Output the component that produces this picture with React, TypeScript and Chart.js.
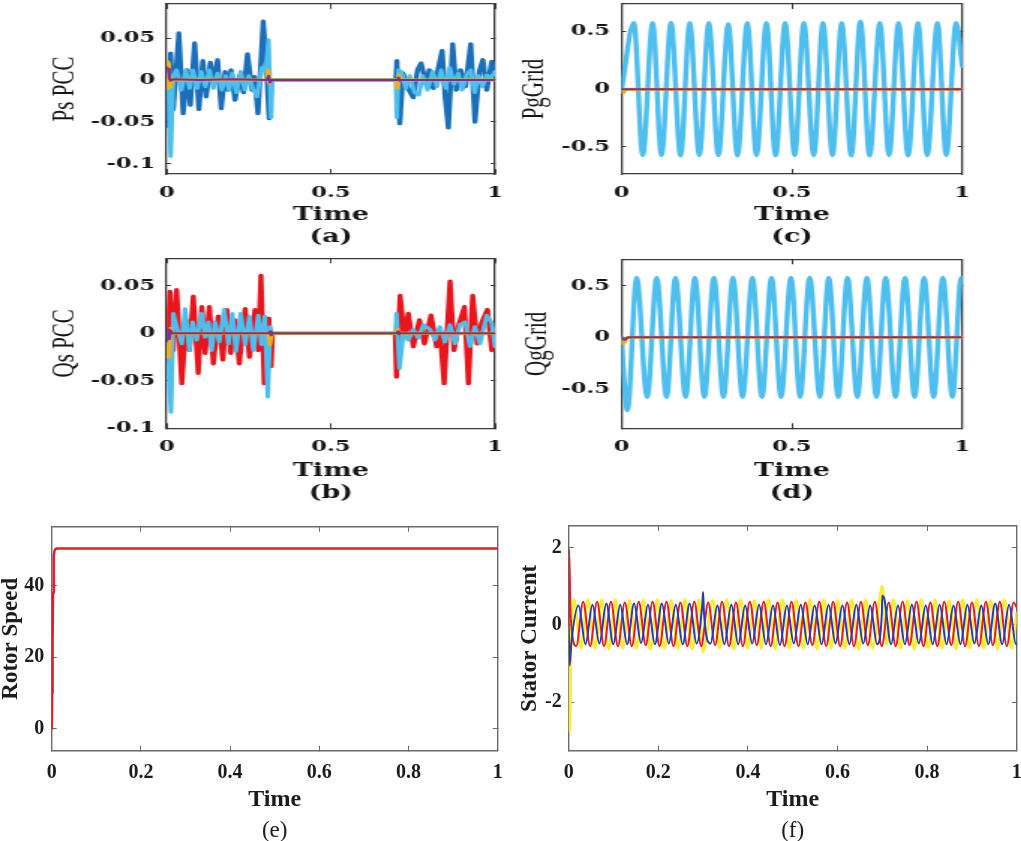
import React, { useEffect, useRef } from 'react';
import { Chart, registerables } from 'chart.js';

Chart.register(...registerables);

type Pt = [number, number];

// ---------- tick values ----------
const timeTicksTop = [0, 0.5, 1];
const timeTicksBottom = [0, 0.2, 0.4, 0.6, 0.8, 1];
const psTicks = [-0.1, -0.05, 0, 0.05];
const qsTicks = [-0.1, -0.05, 0, 0.05];
const gridTicks = [-0.5, 0, 0.5];
const rotorTicks = [0, 20, 40];
const statorTicks = [-2, 0, 2];

// ---------- (a) Ps PCC ----------
const psDarkBlue: Pt[] = [
  [0, 0], [0.003, -0.055], [0.012, 0.032], [0.02, -0.035], [0.037, 0.056], [0.05, -0.04],
  [0.062, 0.012], [0.072, -0.03], [0.085, 0.044], [0.098, -0.035], [0.11, 0.023], [0.12, -0.02],
  [0.133, 0.021], [0.143, -0.005], [0.155, 0.024], [0.166, -0.034], [0.178, 0.01], [0.187, -0.012],
  [0.196, 0.012], [0.208, -0.024], [0.222, 0.005], [0.234, -0.015], [0.246, 0.031], [0.26, -0.012],
  [0.267, 0.004], [0.278, -0.04], [0.294, 0.07], [0.304, 0.015], [0.312, -0.046], [0.318, 0],
  [0.698, 0], [0.701, 0.023], [0.71, -0.052], [0.72, 0.008], [0.735, -0.01], [0.751, -0.021],
  [0.764, 0.012], [0.775, 0.02], [0.79, -0.005], [0.8, 0.012], [0.812, -0.01], [0.825, 0.01],
  [0.839, 0.035], [0.848, -0.02], [0.858, -0.057], [0.871, 0.043], [0.882, -0.012], [0.895, 0.012],
  [0.91, -0.008], [0.926, 0.043], [0.939, -0.05], [0.952, 0.01], [0.963, 0.024], [0.975, -0.012],
  [0.99, 0.022], [1.0, 0.005],
];
const psLightBlue: Pt[] = [
  [0, 0], [0.004, 0.02], [0.012, -0.091], [0.02, 0.005], [0.03, 0.012], [0.045, -0.012],
  [0.058, 0.012], [0.07, -0.01], [0.08, 0.012], [0.093, -0.01], [0.105, 0.01], [0.118, -0.008],
  [0.13, 0.012], [0.142, -0.01], [0.155, 0.008], [0.168, -0.012], [0.18, 0.005], [0.19, -0.012],
  [0.2, 0.008], [0.212, -0.015], [0.225, 0.01], [0.238, -0.012], [0.25, 0.005], [0.262, -0.01],
  [0.275, -0.02], [0.29, 0.015], [0.302, 0.01], [0.31, 0.048], [0.318, -0.045], [0.322, 0],
  [0.698, 0], [0.701, -0.045], [0.706, 0.012], [0.715, 0.01], [0.728, -0.01], [0.74, 0.005],
  [0.755, -0.015], [0.768, -0.018], [0.78, 0.005], [0.795, -0.012], [0.81, 0.01], [0.823, -0.008],
  [0.836, 0.012], [0.85, -0.01], [0.862, 0.015], [0.875, -0.005], [0.888, 0.008], [0.9, -0.012],
  [0.913, 0.006], [0.926, 0.012], [0.938, -0.015], [0.95, 0.005], [0.962, -0.008], [0.975, 0.006],
  [0.987, 0.002], [1.0, 0.01],
];
const psOrange: Pt[] = [
  [0, 0.022], [0.003, -0.01], [0.006, 0.02], [0.009, -0.008], [0.013, 0.002], [0.016, 0],
  [0.305, 0], [0.309, 0.012], [0.313, -0.004], [0.317, 0], [0.699, 0], [0.703, -0.01],
  [0.707, 0.006], [0.711, 0], [1, 0],
];
const psPurple: Pt[] = [
  [0, 0.015], [0.004, 0.013], [0.008, 0.002], [0.012, -0.001], [0.02, 0.001], [0.1, 0],
  [0.2, 0.001], [0.305, 0], [0.31, 0.005], [0.315, -0.003], [0.32, 0], [0.702, 0],
  [0.706, 0.003], [0.71, -0.001], [0.714, 0], [1, 0],
];

// ---------- (b) Qs PCC ----------
const qsRed: Pt[] = [
  [0, -0.03], [0.01, 0.044], [0.02, -0.018], [0.03, 0.046], [0.046, -0.053], [0.059, 0.014],
  [0.069, -0.018], [0.081, 0.039], [0.096, -0.042], [0.107, 0.028], [0.117, -0.021], [0.13, 0.028],
  [0.142, -0.032], [0.157, 0.018], [0.171, -0.028], [0.183, 0.025], [0.195, -0.021], [0.208, 0.014],
  [0.221, -0.032], [0.239, 0.026], [0.252, -0.025], [0.269, 0.025], [0.279, -0.018], [0.287, 0.061],
  [0.297, -0.053], [0.311, 0.016], [0.318, -0.035], [0.322, 0],
  [0.696, 0], [0.7, -0.046], [0.711, 0.04], [0.724, -0.004], [0.736, 0.021], [0.751, -0.014],
  [0.77, 0.014], [0.785, -0.011], [0.805, 0.019], [0.822, -0.014], [0.832, 0.004], [0.845, -0.053],
  [0.863, 0.055], [0.875, -0.018], [0.888, 0.007], [0.907, 0.028], [0.919, -0.053], [0.932, 0.04],
  [0.946, -0.011], [0.959, 0.011], [0.977, 0.025], [0.99, -0.018], [1.0, 0.005],
];
const qsLightBlue: Pt[] = [
  [0, 0], [0.013, -0.083], [0.02, 0.021], [0.032, 0.005], [0.046, -0.011], [0.056, 0.026],
  [0.069, -0.018], [0.079, 0.012], [0.091, -0.007], [0.107, 0.021], [0.117, -0.004], [0.127, 0.012],
  [0.137, -0.018], [0.147, 0.012], [0.16, -0.009], [0.175, 0.025], [0.188, -0.011], [0.2, 0.021],
  [0.211, -0.019], [0.225, 0.021], [0.239, -0.012], [0.252, 0.018], [0.264, -0.018], [0.279, 0.019],
  [0.289, -0.012], [0.299, 0.018], [0.308, -0.067], [0.315, 0.007], [0.32, 0],
  [0.697, 0], [0.7, 0.021], [0.709, -0.037], [0.721, 0], [0.736, -0.007], [0.751, 0.004],
  [0.766, -0.005], [0.782, 0.009], [0.802, 0.004], [0.817, -0.007], [0.832, 0.007], [0.848, -0.009],
  [0.863, 0.009], [0.878, -0.011], [0.893, 0.009], [0.909, 0.012], [0.924, -0.014], [0.939, 0.007],
  [0.954, -0.011], [0.975, 0.019], [0.99, 0.011], [1.0, -0.014],
];
const qsOrange: Pt[] = [
  [0, -0.015], [0.004, -0.025], [0.008, -0.02], [0.012, 0.005], [0.016, 0], [0.31, 0],
  [0.314, -0.012], [0.318, -0.004], [0.321, 0], [0.7, 0], [0.704, 0.004], [0.708, 0], [1, 0],
];
const qsPurple: Pt[] = [
  [0, -0.008], [0.004, 0.004], [0.008, -0.006], [0.012, 0.003], [0.016, 0], [0.312, 0],
  [0.315, 0.002], [0.318, -0.002], [0.321, 0], [0.701, 0], [0.704, 0.002], [0.707, -0.001],
  [0.71, 0], [1, 0],
];

// ---------- (c) PgGrid ----------
const pgLightBlue: Pt[] = [
  [0, 0], [0.036, 0.575], [0.062, -0.575], [0.091, 0.575], [0.117, -0.575], [0.145, 0.578],
  [0.173, -0.578], [0.2, 0.575], [0.228, -0.575], [0.256, 0.575], [0.284, -0.575], [0.313, 0.565],
  [0.34, -0.578], [0.369, 0.575], [0.396, -0.575], [0.425, 0.575], [0.452, -0.578], [0.48, 0.575],
  [0.508, -0.575], [0.535, 0.575], [0.564, -0.575], [0.591, 0.575], [0.619, -0.575], [0.646, 0.575],
  [0.674, -0.578], [0.701, 0.59], [0.728, -0.578], [0.758, 0.575], [0.785, -0.575], [0.813, 0.575],
  [0.841, -0.578], [0.87, 0.575], [0.897, -0.575], [0.927, 0.575], [0.953, -0.575], [0.982, 0.575],
  [1.0, 0.2],
];
const pgOrange: Pt[] = [[0, -0.015], [0.005, -0.03], [0.01, -0.01], [0.014, 0], [1, 0]];
const pgPurple: Pt[] = [[0, 0], [1, 0]];

// ---------- (d) QgGrid ----------
const qgLightBlue: Pt[] = [
  [0, 0], [0.005, -0.3], [0.017, -0.71], [0.044, 0.58], [0.075, -0.58], [0.103, 0.58],
  [0.132, -0.58], [0.158, 0.58], [0.188, -0.58], [0.215, 0.58], [0.243, -0.58], [0.271, 0.58],
  [0.299, -0.58], [0.327, 0.58], [0.355, -0.58], [0.384, 0.58], [0.412, -0.58], [0.44, 0.58],
  [0.468, -0.58], [0.497, 0.58], [0.524, -0.58], [0.552, 0.58], [0.582, -0.58], [0.608, 0.58],
  [0.636, -0.58], [0.663, 0.58], [0.692, -0.58], [0.72, 0.58], [0.748, -0.58], [0.775, 0.58],
  [0.804, -0.58], [0.832, 0.58], [0.86, -0.58], [0.888, 0.58], [0.916, -0.58], [0.943, 0.58],
  [0.971, -0.58], [0.997, 0.58], [1.0, 0.56],
];
const qgOrange: Pt[] = [[0, -0.02], [0.004, -0.06], [0.009, -0.045], [0.014, -0.01], [0.018, 0], [1, 0]];
const qgPurple: Pt[] = [[0, 0], [0.004, -0.02], [0.01, -0.025], [0.016, -0.005], [0.02, 0], [1, 0]];

// ---------- (e) Rotor speed ----------
const rotorSpeed: Pt[] = [
  [0, 0], [0.001, 10], [0.002, 25], [0.003, 38], [0.004, 45], [0.005, 48.3], [0.006, 49.6],
  [0.008, 50.2], [0.012, 50.4], [1, 50.4],
];

// ---------- (f) Stator current ----------
const statorBlue: Pt[] = [
  [0, 0], [0.002, -1.05], [0.006, -0.45], [0.022, 0.5], [0.0375, -0.5], [0.053, 0.52], [0.0685, -0.48],
  [0.084, 0.55], [0.0995, -0.5], [0.115, 0.52], [0.1305, -0.5], [0.146, 0.55], [0.1615, -0.47],
  [0.177, 0.52], [0.1925, -0.5], [0.208, 0.55], [0.2235, -0.48], [0.239, 0.52], [0.2545, -0.5],
  [0.27, 0.55], [0.2855, -0.48], [0.298, 0.5], [0.3, 0.85], [0.302, 0.3], [0.3165, -0.48],
  [0.332, 0.5], [0.3475, -0.5], [0.363, 0.52], [0.3785, -0.5], [0.394, 0.5], [0.4095, -0.48],
  [0.425, 0.52], [0.4405, -0.5], [0.456, 0.5], [0.4715, -0.52], [0.487, 0.5], [0.5025, -0.48],
  [0.518, 0.52], [0.5335, -0.5], [0.549, 0.5], [0.5645, -0.5], [0.58, 0.52], [0.5955, -0.48],
  [0.611, 0.5], [0.6265, -0.5], [0.642, 0.52], [0.6575, -0.48], [0.673, 0.5], [0.6885, -0.5],
  [0.699, 0.3], [0.7, 0.75], [0.704, 0.7], [0.7195, -0.5], [0.735, 0.5], [0.7505, -0.5],
  [0.766, 0.52], [0.7815, -0.48], [0.797, 0.5], [0.8125, -0.5], [0.828, 0.52], [0.8435, -0.5],
  [0.859, 0.5], [0.8745, -0.5], [0.89, 0.52], [0.9055, -0.48], [0.921, 0.5], [0.9365, -0.5],
  [0.952, 0.55], [0.9675, -0.5], [0.983, 0.52], [0.9985, -0.5], [1.0, -0.48],
];
const statorRed: Pt[] = [
  [0, 0], [0.001, 1.95], [0.004, 0.3], [0.0168, -0.55], [0.0323, 0.6], [0.0478, -0.55], [0.0633, 0.6],
  [0.0788, -0.55], [0.0943, 0.6], [0.1098, -0.55], [0.1253, 0.58], [0.1408, -0.55], [0.1563, 0.6],
  [0.1718, -0.52], [0.1873, 0.6], [0.2028, -0.55], [0.2183, 0.6], [0.2338, -0.55], [0.2493, 0.58],
  [0.2648, -0.55], [0.2803, 0.6], [0.2958, -0.55], [0.3113, 0.58], [0.3268, -0.52], [0.3423, 0.6],
  [0.3578, -0.55], [0.3733, 0.58], [0.3888, -0.55], [0.4043, 0.6], [0.4198, -0.52], [0.4353, 0.6],
  [0.4508, -0.55], [0.4663, 0.58], [0.4818, -0.55], [0.4973, 0.6], [0.5128, -0.55], [0.5283, 0.58],
  [0.5438, -0.52], [0.5593, 0.6], [0.5748, -0.55], [0.5903, 0.6], [0.6058, -0.55], [0.6213, 0.58],
  [0.6368, -0.55], [0.6523, 0.6], [0.6678, -0.52], [0.6833, 0.6], [0.6988, -0.55], [0.7143, 0.58],
  [0.7298, -0.55], [0.7453, 0.6], [0.7608, -0.52], [0.7763, 0.6], [0.7918, -0.55], [0.8073, 0.58],
  [0.8228, -0.55], [0.8383, 0.6], [0.8538, -0.52], [0.8693, 0.6], [0.8848, -0.55], [0.9003, 0.58],
  [0.9158, -0.55], [0.9313, 0.6], [0.9468, -0.52], [0.9623, 0.6], [0.9778, -0.55], [0.9933, 0.58],
  [1.0, 0.45],
];
const statorYellow: Pt[] = [
  [0, 0], [0.002, -2.75], [0.005, -0.6], [0.0117, 0.65], [0.0272, -0.6], [0.0427, 0.65], [0.0582, -0.6],
  [0.0737, 0.65], [0.0892, -0.62], [0.1047, 0.65], [0.1202, -0.6], [0.1357, 0.63], [0.1512, -0.6],
  [0.1667, 0.65], [0.1822, -0.62], [0.1977, 0.65], [0.2132, -0.6], [0.2287, 0.63], [0.2442, -0.6],
  [0.2597, 0.65], [0.2752, -0.62], [0.2907, 0.65], [0.3, -0.7], [0.3062, -0.4], [0.3217, 0.63],
  [0.3372, -0.6], [0.3527, 0.65], [0.3682, -0.62], [0.3837, 0.65], [0.3992, -0.6], [0.4147, 0.63],
  [0.4302, -0.6], [0.4457, 0.65], [0.4612, -0.62], [0.4767, 0.65], [0.4922, -0.6], [0.5077, 0.63],
  [0.5232, -0.6], [0.5387, 0.65], [0.5542, -0.62], [0.5697, 0.65], [0.5852, -0.6], [0.6007, 0.63],
  [0.6162, -0.6], [0.6317, 0.65], [0.6472, -0.62], [0.6627, 0.65], [0.6782, -0.6], [0.6937, 0.63],
  [0.7, 1.0], [0.7092, -0.5], [0.7247, 0.65], [0.7402, -0.6], [0.7557, 0.63], [0.7712, -0.62],
  [0.7867, 0.65], [0.8022, -0.6], [0.8177, 0.65], [0.8332, -0.6], [0.8487, 0.63], [0.8642, -0.62],
  [0.8797, 0.65], [0.8952, -0.6], [0.9107, 0.65], [0.9262, -0.6], [0.9417, 0.63], [0.9572, -0.62],
  [0.9727, 0.65], [0.9882, -0.6], [1.0, 0.3],
];

// ---------- colours ----------
const DARK_BLUE = '#1a6fb8';
const LIGHT_BLUE = '#4dbeee';
const ORANGE = '#edb120';
const PURPLE = '#7e2f8e';
const RED = '#e8161c';
const F_RED = '#e41e26';
const F_BLUE = '#283cab';
const F_YELLOW = '#f8ec3a';

// ---------- panel description ----------
interface Series { data: Pt[]; color: string; width: number; order: number; smooth?: boolean }
interface PanelSpec {
  id: string;
  canvas: { x: number; y: number; w: number; h: number };
  plot: { l: number; r: number; t: number; b: number };
  stretch: number;
  upper: boolean;
  xTicks: number[]; yTicks: number[]; yMin: number; yMax: number;
  series: Series[];
  xTitle: string | string[]; yTitle: string;
  yTitleCenter: number; yTickGap: number;
}

const SX = 1.5;

const panels: PanelSpec[] = [
  {
    id: 'a', canvas: { x: 0, y: 0, w: 510, h: 250 }, plot: { l: 166.7, r: 495, t: 4, b: 174 },
    stretch: SX, upper: true, xTicks: timeTicksTop, yTicks: psTicks, yMin: -0.112, yMax: 0.0905,
    series: [
      { data: psDarkBlue, color: DARK_BLUE, width: 3.4, order: 4 },
      { data: psLightBlue, color: LIGHT_BLUE, width: 3.0, order: 3 },
      { data: psOrange, color: ORANGE, width: 3, order: 2 },
      { data: psPurple, color: PURPLE, width: 2, order: 1 },
    ],
    xTitle: ['Time', '(a)'], yTitle: 'Ps PCC', yTitleCenter: 65, yTickGap: 11.7,
  },
  {
    id: 'b', canvas: { x: 0, y: 250, w: 510, h: 260 }, plot: { l: 166.7, r: 495, t: 258.3, b: 428.3 },
    stretch: SX, upper: true, xTicks: timeTicksTop, yTicks: qsTicks, yMin: -0.1, yMax: 0.079,
    series: [
      { data: qsRed, color: RED, width: 3.4, order: 4 },
      { data: qsLightBlue, color: LIGHT_BLUE, width: 3.0, order: 3 },
      { data: qsOrange, color: ORANGE, width: 3, order: 2 },
      { data: qsPurple, color: PURPLE, width: 2, order: 1 },
    ],
    xTitle: ['Time', '(b)'], yTitle: 'Qs PCC', yTitleCenter: 65, yTickGap: 11.7,
  },
  {
    id: 'c', canvas: { x: 510, y: 0, w: 511, h: 250 }, plot: { l: 621.7, r: 962.7, t: 4, b: 174 },
    stretch: SX, upper: true, xTicks: timeTicksTop, yTicks: gridTicks, yMin: -0.735, yMax: 0.738,
    series: [
      { data: pgLightBlue, color: LIGHT_BLUE, width: 3.4, order: 3, smooth: true },
      { data: pgOrange, color: ORANGE, width: 3, order: 2 },
      { data: pgPurple, color: PURPLE, width: 2, order: 1 },
    ],
    xTitle: ['Time', '(c)'], yTitle: 'PgGrid', yTitleCenter: 535, yTickGap: 11.7,
  },
  {
    id: 'd', canvas: { x: 510, y: 250, w: 511, h: 260 }, plot: { l: 621.7, r: 962.7, t: 259.3, b: 428.3 },
    stretch: SX, upper: true, xTicks: timeTicksTop, yTicks: gridTicks, yMin: -0.881, yMax: 0.755,
    series: [
      { data: qgLightBlue, color: LIGHT_BLUE, width: 3.4, order: 3, smooth: true },
      { data: qgOrange, color: ORANGE, width: 3, order: 2 },
      { data: qgPurple, color: PURPLE, width: 2, order: 1 },
    ],
    xTitle: ['Time', '(d)'], yTitle: 'QgGrid', yTitleCenter: 537, yTickGap: 11.7,
  },
  {
    id: 'e', canvas: { x: 0, y: 500, w: 510, h: 341 }, plot: { l: 51.7, r: 497.7, t: 526.7, b: 750.7 },
    stretch: 1, upper: false, xTicks: timeTicksBottom, yTicks: rotorTicks, yMin: -6.15, yMax: 56.5,
    series: [{ data: rotorSpeed, color: F_RED, width: 2.5, order: 1 }],
    xTitle: 'Time', yTitle: 'Rotor Speed', yTitleCenter: 11, yTickGap: 7.5,
  },
  {
    id: 'f', canvas: { x: 510, y: 500, w: 511, h: 341 }, plot: { l: 568.7, r: 1016.7, t: 526, b: 750.7 },
    stretch: 1, upper: false, xTicks: timeTicksBottom, yTicks: statorTicks, yMin: -3.25, yMax: 2.555,
    series: [
      { data: statorYellow, color: F_YELLOW, width: 3, order: 3, smooth: true },
      { data: statorRed, color: F_RED, width: 2, order: 2, smooth: true },
      { data: statorBlue, color: F_BLUE, width: 2, order: 1, smooth: true },
    ],
    xTitle: 'Time', yTitle: 'Stator Current', yTitleCenter: 530, yTickGap: 7,
  },
];

const captions = [
  { text: '(e)', x: 274.7, y: 830 },
  { text: '(f)', x: 792.7, y: 830 },
];

function fmt(v: number): string {
  return String(v);
}

function buildConfig(spec: PanelSpec, lw: number): any {
  const s = spec.stretch;
  const leftW = (spec.plot.l - spec.canvas.x) / s;
  const rightW = lw - (spec.plot.r - spec.canvas.x) / s;
  const topH = spec.plot.t - spec.canvas.y;
  const bottomH = spec.canvas.y + spec.canvas.h - spec.plot.b;

  const upper = spec.upper;
  const textColor = upper ? '#151515' : '#1c1c1c';
  const boxColor = upper ? '#3a3a3a' : '#6a6a6a';
  const boxWidth = upper ? 1.3 : 1.4;
  const tickFont = upper
    ? { family: '"DejaVu Serif", serif', weight: 'bold', size: 15 }
    : { family: '"Liberation Serif", serif', weight: 'bold', size: 20 };
  const xTitleFont = upper
    ? { family: '"DejaVu Serif", serif', weight: 'bold', size: 18, lineHeight: '22px' }
    : { family: '"Liberation Serif", serif', weight: 'bold', size: 24 };
  const yTitleSize = upper ? 21 : 23;
  const yTitleFont = upper
    ? { family: '"Liberation Serif", serif', weight: 'normal', size: yTitleSize, lineHeight: 1 }
    : { family: '"Liberation Serif", serif', weight: 'bold', size: yTitleSize, lineHeight: 1 };

  const yTl = upper ? -3 : -5;
  const xTl = -5;
  const xTickLH = tickFont.size * 1.2;
  const xLabelDrop = upper ? 19 : 22;
  const xTickPad = xLabelDrop - xTl - xTickLH / 2;
  const yTickPad = spec.yTickGap / s - yTl;

  let xTitlePadBottom: number;
  if (upper) {
    const secondLineFromBottom = spec.canvas.h === 250 ? 13 : 17;
    xTitlePadBottom = secondLineFromBottom - 11;
  } else {
    xTitlePadBottom = 41 - (24 * 1.2) / 2;
  }
  const yTitlePadTop = (spec.yTitleCenter - spec.canvas.x) / s - yTitleSize / 2;

  const setX = (sc: any) => { sc.ticks = spec.xTicks.map((v) => ({ value: v })); };
  const setY = (sc: any) => { sc.ticks = spec.yTicks.map((v) => ({ value: v })); };
  const noPad = (sc: any) => { sc.paddingTop = 0; sc.paddingBottom = 0; sc.paddingLeft = 0; sc.paddingRight = 0; };

  const border = { display: true, color: boxColor, width: boxWidth };

  return {
    type: 'line',
    data: {
      datasets: spec.series.map((se) => ({
        data: se.data.map(([x, y]) => ({ x, y })),
        borderColor: se.color,
        backgroundColor: se.color,
        borderWidth: se.width,
        pointRadius: 0,
        fill: false,
        tension: 0,
        cubicInterpolationMode: se.smooth ? 'monotone' : 'default',
        borderJoinStyle: 'round',
        borderCapStyle: 'round',
        order: se.order,
      })),
    },
    options: {
      responsive: false,
      animation: false,
      events: [],
      layout: { padding: 0 },
      plugins: { legend: { display: false }, tooltip: { enabled: false }, title: { display: false } },
      scales: {
        x: {
          type: 'linear', position: 'bottom', min: 0, max: 1,
          afterBuildTicks: setX,
          afterFit: (sc: any) => { sc.height = bottomH; noPad(sc); },
          ticks: { autoSkip: false, maxRotation: 0, minRotation: 0, padding: xTickPad, color: textColor, font: tickFont, callback: (v: number) => fmt(v) },
          grid: { drawOnChartArea: false, drawTicks: true, tickLength: xTl, color: boxColor, lineWidth: 1 },
          border,
          title: { display: true, text: spec.xTitle, color: textColor, font: xTitleFont, padding: { top: 0, bottom: xTitlePadBottom } },
        },
        x2: {
          type: 'linear', position: 'top', min: 0, max: 1,
          afterBuildTicks: setX,
          afterFit: (sc: any) => { sc.height = topH; noPad(sc); },
          ticks: { display: false },
          grid: { drawOnChartArea: false, drawTicks: true, tickLength: xTl, color: boxColor, lineWidth: 1 },
          border,
        },
        y: {
          type: 'linear', position: 'left', min: spec.yMin, max: spec.yMax,
          afterBuildTicks: setY,
          afterFit: (sc: any) => { sc.width = leftW; noPad(sc); },
          ticks: { autoSkip: false, padding: yTickPad, color: textColor, font: tickFont, callback: (v: number) => fmt(v) },
          grid: { drawOnChartArea: false, drawTicks: true, tickLength: yTl, color: boxColor, lineWidth: 1 },
          border,
          title: { display: true, text: spec.yTitle, color: textColor, font: yTitleFont, padding: { top: yTitlePadTop, bottom: 0 } },
        },
        y2: {
          type: 'linear', position: 'right', min: spec.yMin, max: spec.yMax,
          afterBuildTicks: setY,
          afterFit: (sc: any) => { sc.width = rightW; noPad(sc); },
          ticks: { display: false },
          grid: { drawOnChartArea: false, drawTicks: true, tickLength: yTl, color: boxColor, lineWidth: 1 },
          border,
        },
      },
    },
  };
}

function PanelChart({ spec }: { spec: PanelSpec }) {
  const ref = useRef<HTMLCanvasElement>(null);
  const lw = Math.round(spec.canvas.w / spec.stretch);
  useEffect(() => {
    if (!ref.current) return;
    const chart = new Chart(ref.current, buildConfig(spec, lw));
    return () => chart.destroy();
  }, []);
  return (
    <canvas
      ref={ref}
      width={lw}
      height={spec.canvas.h}
      style={{
        position: 'absolute',
        left: spec.canvas.x,
        top: spec.canvas.y,
        width: lw,
        height: spec.canvas.h,
        transform: `scaleX(${spec.canvas.w / lw})`,
        transformOrigin: '0 0',
      }}
    />
  );
}

export default function App() {
  return (
    <div style={{ position: 'absolute', left: 0, top: 0, width: 1021, height: 841, background: '#fff', overflow: 'hidden' }}>
      {panels.map((p) => (
        <PanelChart key={p.id} spec={p} />
      ))}
      {captions.map((c) => (
        <div
          key={c.text}
          style={{
            position: 'absolute',
            left: c.x - 40,
            top: c.y - 14,
            width: 80,
            height: 28,
            lineHeight: '28px',
            textAlign: 'center',
            fontFamily: '"Liberation Serif", serif',
            fontSize: 23,
            color: '#1c1c1c',
          }}
        >
          {c.text}
        </div>
      ))}
    </div>
  );
}
